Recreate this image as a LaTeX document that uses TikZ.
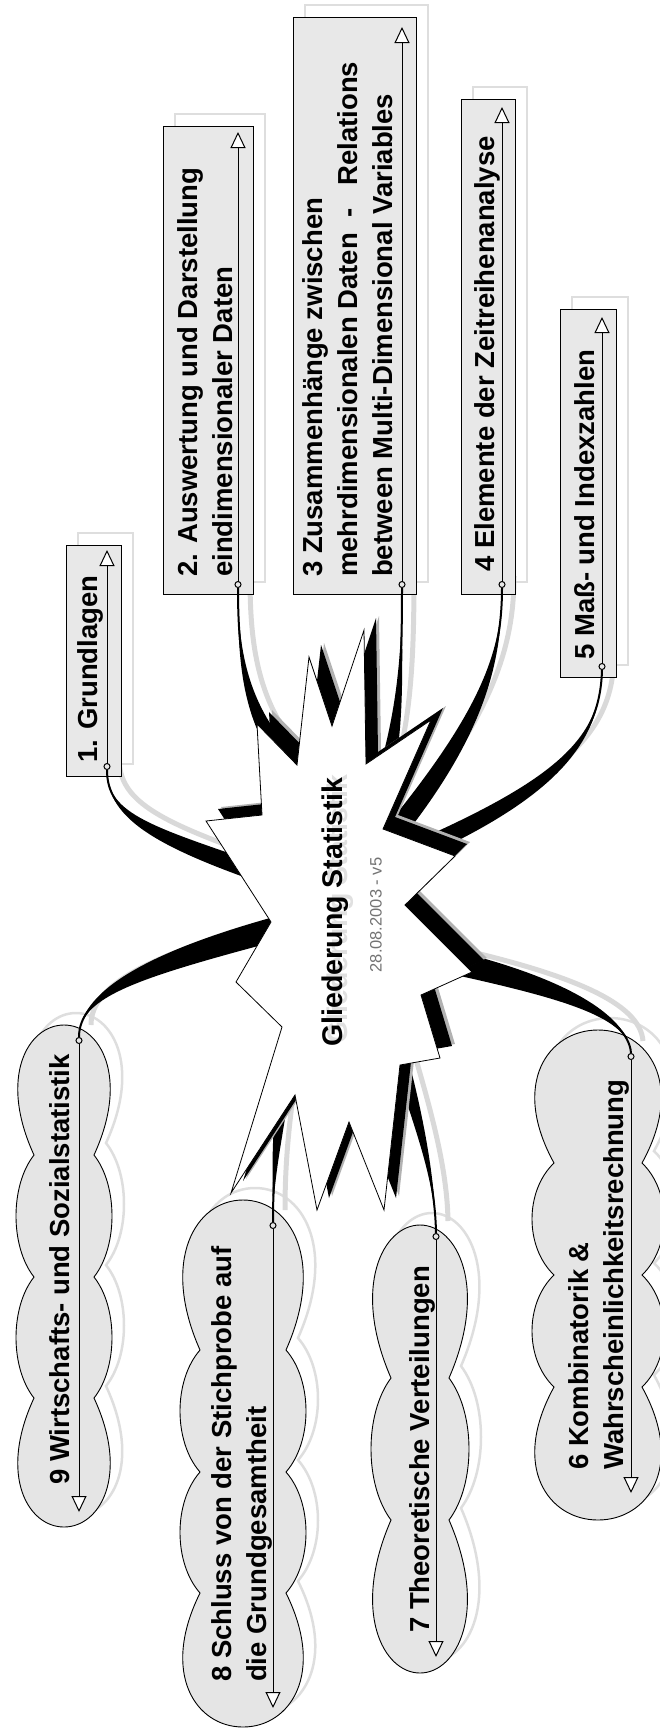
\documentclass[tikz,border=0pt]{standalone}
\usepackage{fontspec}
\setmainfont{Liberation Sans}
\usetikzlibrary{arrows.meta,calc}

% explosion round the root topic
\newcommand\burst{(206,821) -- (262,815) -- (257,724) -- (297,765) -- (309,657) -- (332,726)
  -- (364,630) -- (366,764) -- (431,720) -- (383,829) -- (455,856) -- (405,905) -- (472,972)
  -- (421,995) -- (440,1058) -- (400,1065) -- (384,1210) -- (349,1122) -- (317,1210)
  -- (295,1095) -- (231,1193) -- (282,1027) -- (236,982) -- (271,922) -- cycle}

% wavy outline: centre, half width, dent, top, first dent, last dent, bottom, dents down, dents up
\newcommand\cloudpath[9]{(#1-#2+#3,#5)
  .. controls (#1-#2-#3,0.4*#5+0.6*#4) and (#1-0.75*#2,#4) .. (#1,#4)
  .. controls (#1+0.75*#2,#4) and (#1+#2+#3,0.4*#5+0.6*#4) .. (#1+#2-#3,#5)
  \foreach \p/\q in {#8}{ .. controls (#1+#2+#3/3,0.75*\p+0.25*\q) and (#1+#2+#3/3,0.25*\p+0.75*\q) .. (#1+#2-#3,\q)}
  .. controls (#1+#2+#3,0.4*#6+0.6*#7) and (#1+0.75*#2,#7) .. (#1,#7)
  .. controls (#1-0.75*#2,#7) and (#1-#2-#3,0.4*#6+0.6*#7) .. (#1-#2+#3,#6)
  \foreach \p/\q in {#9}{ .. controls (#1-#2-#3/3,0.75*\p+0.25*\q) and (#1-#2-#3/3,0.25*\p+0.75*\q) .. (#1-#2+#3,\q)}
  -- cycle}

\begin{document}
\begin{tikzpicture}[
  x=1pt, y=-1pt,
  topic/.style={draw, line width=1.2pt, fill=black!9, inner sep=0pt, anchor=north west},
  bubble/.style={draw, line width=0.9pt, fill=black!10},
  ghost/.style={draw=black!13, line width=2.5pt, transform canvas={shift={(12,-12)}}},
  branch/.style={line width=2pt},
  branchghost/.style={draw=black!15, line width=5pt, transform canvas={shift={(12,-12)}}},
  topictext/.style={rotate=90, anchor=north west, align=left, inner sep=0pt,
    font=\bfseries\fontsize{27.5}{35}\selectfont},
  rootfont/.style={rotate=90, font=\bfseries\fontsize{28.5}{34}\selectfont},
  innerline/.style={line width=1pt,
    {Circle[open, length=7pt, width=7pt]}-{Triangle[fill=white, length=16pt, width=15pt]}}
]
\useasboundingbox (0,0) rectangle (659,1729);

% anchor, arrow tip, two controls, end in the root, half width of the wedge
\foreach \i/\from/\tip/\ca/\cb/\hub/\nv in {
  1/{107,770}/{107,550}/{107,815}/{150,835}/{265,875}/{-3.4,8.3},
  2/{238,588}/{238,132}/{238,660}/{245,735}/{318,790}/{-6.6,8.8},
  3/{402,588}/{402,27}/{402,680}/{398,740}/{378,800}/{7.6,2.5},
  4/{502,588}/{502,107}/{502,660}/{480,730}/{380,850}/{7.7,6.4},
  5/{602,670}/{602,317}/{600,740}/{560,790}/{390,862}/{3.5,8.3},
  6/{631,1053}/{631,1493}/{628,1015}/{560,985}/{420,955}/{-2.5,11.7},
  7/{436,1233}/{436,1657}/{435,1170}/{412,1100}/{392,1030}/{7.7,-2.2},
  8/{273,1222}/{273,1708}/{273,1180}/{276,1140}/{285,1080}/{6,0.8},
  9/{79,1037}/{79,1512}/{79,995}/{140,965}/{290,925}/{3.1,11.6}}{
  \coordinate (a\i) at (\from);
  \coordinate (t\i) at (\tip);
  \coordinate (u\i) at (\ca);
  \coordinate (v\i) at (\cb);
  \coordinate (e\i) at (\hub);
  \coordinate (w\i) at (\nv);
}

% shadows
\foreach \bx/\by/\bw/\bh in {66/545/55/231, 163/126/90/468, 293/17/123/577, 461/99/54/495, 560/309/56/368}
  \draw[ghost] (\bx,\by) rectangle ++(\bw,\bh);
\draw[ghost] \cloudpath{64}{48}{18}{1025}{1155}{1398}{1527}{1155/1277,1277/1398}{1398/1277,1277/1155};
\draw[ghost] \cloudpath{243}{63}{20}{1200}{1350}{1593}{1727}{1350/1472,1472/1593}{1593/1472,1472/1350};
\draw[ghost] \cloudpath{420}{49}{20}{1225}{1378}{1520}{1673}{1378/1520}{1520/1378};
\draw[ghost] \cloudpath{598}{66}{22}{1030}{1163}{1387}{1520}{1163/1275,1275/1387}{1387/1275,1275/1163};
\foreach \i in {1,...,9}
  \draw[branchghost] (a\i) .. controls (u\i) and (v\i) .. (e\i);

% topics
\foreach \i/\bx/\by/\bw/\bh in {1/66/545/55/231, 2/163/126/90/468, 3/293/17/123/577, 4/461/99/54/495, 5/560/309/56/368}
  \node[topic, minimum width=\bw, minimum height=\bh] (box\i) at (\bx,\by) {};
\path[bubble] \cloudpath{64}{48}{18}{1025}{1155}{1398}{1527}{1155/1277,1277/1398}{1398/1277,1277/1155};
\path[bubble] \cloudpath{243}{63}{20}{1200}{1350}{1593}{1727}{1350/1472,1472/1593}{1593/1472,1472/1350};
\path[bubble] \cloudpath{420}{49}{20}{1225}{1378}{1520}{1673}{1378/1520}{1520/1378};
\path[bubble] \cloudpath{598}{66}{22}{1030}{1163}{1387}{1520}{1163/1275,1275/1387}{1387/1275,1275/1163};

% branches, thickening towards the root
\foreach \i in {1,...,9}{
  \draw[branch] (a\i) .. controls (u\i) and (v\i) .. (e\i);
  \fill (a\i) .. controls (u\i) and ($(v\i)+(w\i)$) .. ($(e\i)+(w\i)$)
    -- ($(e\i)-(w\i)$) .. controls ($(v\i)-(w\i)$) and (u\i) .. (a\i) -- cycle;
}

% root
\fill[black!30, transform canvas={shift={(15,-14)}}] \burst;
\fill[black, transform canvas={shift={(12,-12)}}] \burst;
\draw[fill=white, line width=0.8pt] \burst;
\node[rootfont, text=black!12] (rootghost) at (340,909) {Gliederung Statistik};
\node[rootfont] (root) at (335,912) {Gliederung Statistik};
\node[rotate=90, text=black!55, font=\fontsize{16.5}{20}\selectfont] (stamp) at (376,915) {28.08.2003 - v5};

% labels
\node[topictext] (name1) at (77,763) {1. Grundlagen};
\node[topictext] (name2) at (177,577) {2. Auswertung und Darstellung\\eindimensionaler Daten};
\node[topictext] (name3) at (302,577) {3 Zusammenhänge zwischen\\mehrdimensionalen Daten~~-~~~Relations\\between Multi-Dimensional Variables};
\node[topictext] (name4) at (474,572) {4 Elemente der Zeitreihenanalyse};
\node[topictext] (name5) at (574,660) {5 Maß- und Indexzahlen};
\node[topictext] (name6) at (568,1470) {6 Kombinatorik \&\\Wahrscheinlichkeitsrechnung};
\node[topictext] (name7) at (409,1633) {7 Theoretische Verteilungen};
\node[topictext] (name8) at (211,1682) {8 Schluss von der Stichprobe auf\\die Grundgesamtheit};
\node[topictext] (name9) at (49,1485) {9 Wirtschafts- und Sozialstatistik};

\foreach \i in {1,...,9}
  \draw[innerline] (a\i) -- (t\i);
\end{tikzpicture}
\end{document}
